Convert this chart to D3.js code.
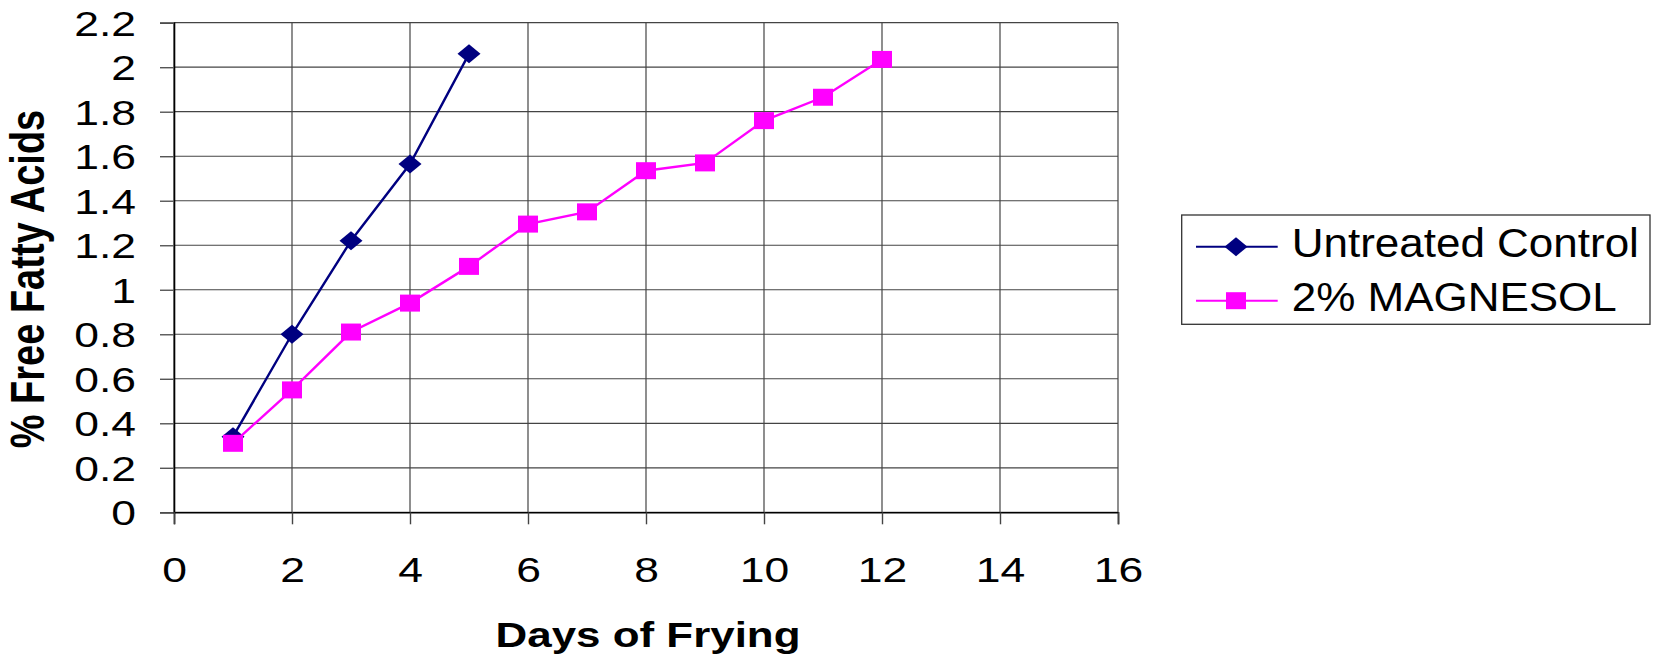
<!DOCTYPE html>
<html>
<head>
<meta charset="utf-8">
<script src="https://cdn.jsdelivr.net/npm/d3@7"></script>
<style>
  body { margin: 0; background: #ffffff; }
  text { font-family: "Liberation Sans", Arial, sans-serif; fill: #000; }
</style>
</head>
<body>
<div id="my_chart_ffa"></div>
<script>
// data
const days_untreated = [1, 2, 3, 4, 5];
const ffa_untreated = [0.34, 0.80, 1.22, 1.565, 2.06];
const days_magnesol = [1, 2, 3, 4, 5, 6, 7, 8, 9, 10, 11, 12];
const ffa_magnesol = [0.31, 0.55, 0.81, 0.94, 1.105, 1.295, 1.35, 1.535, 1.57, 1.76, 1.865, 2.035];
const series_names = ["Untreated Control", "2% MAGNESOL"];
const x_ticks = [0, 2, 4, 6, 8, 10, 12, 14, 16];
const y_ticks = [0, 0.2, 0.4, 0.6, 0.8, 1, 1.2, 1.4, 1.6, 1.8, 2, 2.2];

function generate_ffa_chart(){
  const margin = {top: 22.7, right: 535, bottom: 146.7, left: 174},
      width = 1653 - margin.left - margin.right,
      height = 659 - margin.top - margin.bottom;

  const svg_root = d3.select("#my_chart_ffa")
    .append("svg")
      .attr("width", 1653)
      .attr("height", 659);
  const svg = svg_root.append("g")
      .attr("transform", `translate(${margin.left}, ${margin.top})`);

  const x = d3.scaleLinear().domain([0, 16]).range([0, width]);
  const y = d3.scaleLinear().domain([0, 2.2]).range([height, 0]);

  const tick_sx = 1.27;

  // gridlines
  svg.append("g")
    .selectAll("line")
    .data(y_ticks)
    .join("line")
      .attr("x1", 0).attr("x2", width)
      .attr("y1", d => y(d)).attr("y2", d => y(d))
      .attr("stroke", "#444").attr("stroke-width", 1.2);
  svg.append("g")
    .selectAll("line")
    .data(x_ticks)
    .join("line")
      .attr("x1", d => x(d)).attr("x2", d => x(d))
      .attr("y1", 0).attr("y2", height)
      .attr("stroke", "#444").attr("stroke-width", 1.2);

  // y axis
  const y_axis = svg.append("g")
    .call(d3.axisLeft(y).tickValues(y_ticks).tickSize(14).tickFormat(d => String(+d.toFixed(1))));
  y_axis.select(".domain").attr("stroke", "#000").attr("stroke-width", 1.6);
  y_axis.selectAll(".tick line").attr("stroke", "#555").attr("stroke-width", 1.4);
  y_axis.selectAll(".tick text")
    .attr("x", -38 / tick_sx)
    .attr("dy", "0.36em")
    .attr("transform", `scale(${tick_sx},1)`)
    .style("font-size", "35px")
    .style("font-family", "'Liberation Sans', Arial, sans-serif")
    .attr("fill", "#000");

  // x axis
  const x_axis = svg.append("g")
    .attr("transform", `translate(0, ${height})`)
    .call(d3.axisBottom(x).tickValues(x_ticks).tickSize(12).tickFormat(d3.format("d")));
  x_axis.select(".domain").attr("stroke", "#000").attr("stroke-width", 1.6);
  x_axis.selectAll(".tick line").attr("stroke", "#444").attr("stroke-width", 1.4);
  x_axis.selectAll(".tick text")
    .attr("y", 69.4)
    .attr("dy", 0)
    .attr("transform", `scale(${tick_sx},1)`)
    .style("font-size", "35px")
    .style("font-family", "'Liberation Sans', Arial, sans-serif")
    .attr("fill", "#000");

  // axis titles
  svg_root.append("text")
    .attr("transform", "translate(648, 647) scale(1.22,1)")
    .style("text-anchor", "middle")
    .style("font-size", "36px")
    .style("font-weight", "bold")
    .text("Days of Frying");

  svg_root.append("text")
    .attr("transform", "translate(44, 279) rotate(-90) scale(1,1.25)")
    .style("text-anchor", "middle")
    .style("font-size", "38px")
    .style("font-weight", "bold")
    .text("% Free Fatty Acids");

  const dataReady = [
    {name: series_names[0], color: "#000080", shape: "diamond",
      values: days_untreated.map((d, i) => ({day: d, value: ffa_untreated[i]}))},
    {name: series_names[1], color: "#ff00ff", shape: "square",
      values: days_magnesol.map((d, i) => ({day: d, value: ffa_magnesol[i]}))}
  ];

  const marker_path = function(shape){
    if (shape === "diamond") return "M0,-9.5L11.5,0L0,9.5L-11.5,0Z";
    return "M-10,-8.5H10V8.5H-10Z";
  }

  // lines
  const line = d3.line()
    .x(d => x(d.day))
    .y(d => y(d.value));

  dataReady.forEach(function(s){
    svg.append("path")
      .attr("d", line(s.values))
      .attr("stroke", s.color)
      .style("stroke-width", 2.4)
      .style("fill", "none");
    svg.append("g")
      .selectAll("path")
      .data(s.values)
      .join("path")
        .attr("transform", d => `translate(${x(d.day)}, ${y(d.value)})`)
        .attr("d", marker_path(s.shape))
        .attr("fill", s.color);
  });

  // legend
  const legend = svg_root.append("g");
  legend.append("rect")
    .attr("x", 1181.7).attr("y", 215)
    .attr("width", 468.3).attr("height", 109.3)
    .attr("fill", "#fff")
    .attr("stroke", "#333")
    .attr("stroke-width", 1.3);

  const legend_y = [246.7, 300.7];
  dataReady.forEach(function(s, i){
    legend.append("line")
      .attr("x1", 1196).attr("x2", 1277.7)
      .attr("y1", legend_y[i]).attr("y2", legend_y[i])
      .attr("stroke", s.color).attr("stroke-width", 2);
    legend.append("path")
      .attr("transform", `translate(1236, ${legend_y[i]})`)
      .attr("d", marker_path(s.shape))
      .attr("fill", s.color);
    legend.append("text")
      .attr("transform", `translate(1291.7, ${legend_y[i] + 10.6}) scale(1.1,1)`)
      .style("font-size", "40px")
      .text(s.name);
  });
}

generate_ffa_chart();
</script>
</body>
</html>
